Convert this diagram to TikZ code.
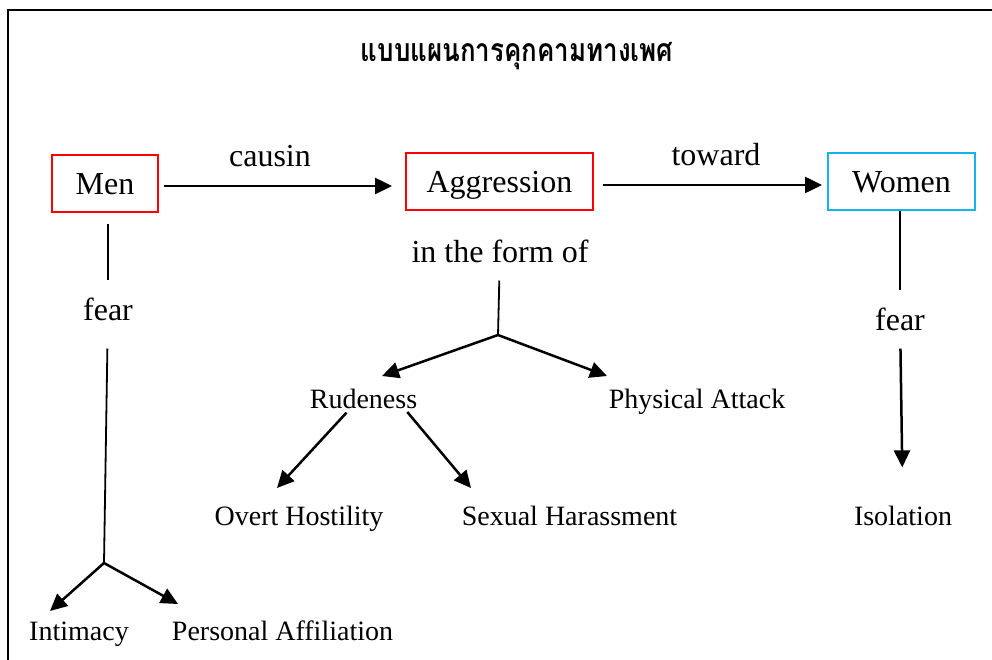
\documentclass[tikz,border=0pt]{standalone}
\usepackage{fontspec}
\setmainfont{Liberation Serif}
\newfontfamily\thaifont[Script=Thai, FakeStretch=0.81]{Loma}
\usetikzlibrary{arrows.meta}
\definecolor{womenblue}{RGB}{20,178,240}

\begin{document}
\begin{tikzpicture}[x=1pt, y=-1pt, auto,
  big/.style={font=\fontsize{32}{36}\selectfont, inner sep=2pt, anchor=base},
  small/.style={font=\fontsize{28}{32}\selectfont, inner sep=2pt, anchor=base},
  box/.style={draw=#1, line width=2pt, font=\fontsize{32}{36}\selectfont, minimum height=57pt, text height=22pt, text depth=0pt, inner sep=0pt},
  arr/.style={-{Triangle[length=17pt,width=16pt]}, line width=2.5pt},
  ln/.style={line width=1.8pt}]

 \useasboundingbox (0,0) rectangle (992,660);
 \draw[line width=2pt] (7.5,10.5) rectangle (1010,680);

 %title
 \node[font=\thaifont\bfseries\fontsize{32}{36}\selectfont, anchor=base] (title) at (517,62) {แบบแผนการคุกคามทางเพศ};

 %level 1
 \def\dy{184}
 \node[box=red, minimum width=106pt] (men) at (105,\dy) {Men};
 \node[box=red, minimum width=187pt] (aggr) at (499.5,\dy-2) {Aggression};
 \node[box=womenblue, minimum width=147pt] (women) at (901.5,\dy-2) {Women};

 \node[big] (causin) at (270,167) {causin};
 \node[big] (toward) at (716,166) {toward};

 %arrow
 \draw[arr, shorten <=5pt, shorten >=13pt] (men.east |- 0,186) -- (aggr.west |- 0,186);
 \draw[arr, shorten <=9pt, shorten >=5pt] (aggr.east |- 0,185) -- (women.west |- 0,185);

 %level 2
 \node[big] (fearL) at (108,320) {fear};
 \node[big] (form) at (500,262) {in the form of};
 \node[big] (fearR) at (900,330) {fear};

 \draw[ln, shorten <=11pt, shorten >=15pt] (men.south -| fearL) -- (fearL);
 \draw[ln, shorten >=15pt] (women.south -| fearR) -- (fearR);

 %labels
 \foreach \nm/\x/\y/\txt in {rude/363.5/408/Rudeness, phys/697/408/Physical Attack,
     overt/299/525/Overt Hostility, sexual/569.5/525/Sexual Harassment,
     isol/903/525/Isolation, intim/79/640/Intimacy, affil/282.5/640/Personal Affiliation} {
         \node[small] (\nm) at (\x,\y) {\txt};
 }

 %branch points
 \coordinate (bL) at (104,563);
 \coordinate (bM) at (498,335);
 \coordinate (tI) at (50,611);
 \coordinate (tA) at (178,604);
 \coordinate (tR) at (382,376);
 \coordinate (tP) at (607,376);
 \coordinate (tO) at (277,488);
 \coordinate (tS) at (471,488);

 \draw[ln, shorten <=26pt] (fearL) -- (bL);
 \draw[arr] (bL) -- (tI);
 \draw[arr] (bL) -- (tA);

 \draw[ln, shorten <=16pt] (form) -- (bM);
 \draw[arr] (bM) -- (tR);
 \draw[arr] (bM) -- (tP);

 \draw[arr, shorten <=3pt] ([xshift=-15pt]rude.south) -- (tO);
 \draw[arr, shorten <=2pt] ([xshift=42.5pt]rude.south) -- (tS);

 \draw[arr, shorten <=16pt, shorten >=36pt] (fearR) -- (isol);

\end{tikzpicture}
\end{document}
